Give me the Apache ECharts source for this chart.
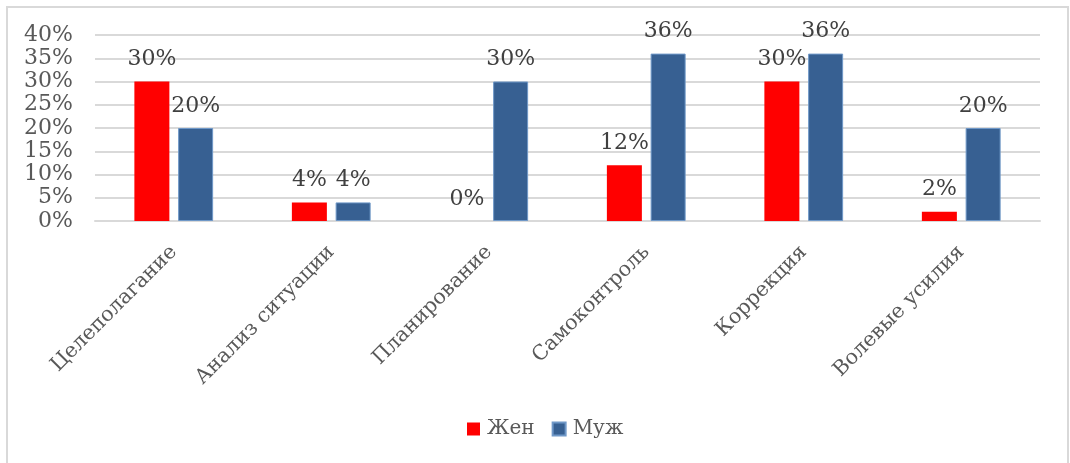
<!DOCTYPE html>
<html>
<head>
<meta charset="utf-8">
<script src="https://cdn.jsdelivr.net/npm/echarts@6/dist/echarts.min.js"></script>
<style>
  html, body { margin: 0; padding: 0; background: #fff; }
  #chart { width: 1070px; height: 463px; }
</style>
</head>
<body>
<div id="chart"></div>
<script>
const categories = ['Целеполагание', 'Анализ ситуации', 'Планирование', 'Самоконтроль', 'Коррекция', 'Волевые усилия'];
const women = [30, 4, 0, 12, 30, 2];
const men = [20, 4, 30, 36, 36, 20];
const seriesNames = ['Жен', 'Муж'];

const font = 'DejaVu Serif';
const textColor = '#595959';

const chart = echarts.init(document.getElementById('chart'));

const label = {
    show: true,
    position: 'top',
    distance: 11,
    formatter: p => p.value + '%',
    fontFamily: font,
    fontSize: 22,
    color: '#404040'
};

chart.setOption({
    animation: false,
    textStyle: { fontFamily: font },
    graphic: [{
        type: 'rect',
        shape: { x: 7, y: 7, width: 1061, height: 470 },
        style: { fill: 'none', stroke: '#d9d9d9', lineWidth: 2 },
        silent: true
    }],
    legend: {
        data: seriesNames,
        bottom: 19,
        left: 462,
        itemWidth: 13,
        itemHeight: 13,
        itemGap: 17,
        icon: 'rect',
        textStyle: { fontFamily: font, fontSize: 20, color: textColor, padding: [0, 0, 0, 2] }
    },
    grid: { left: 95, right: 30, top: 35, bottom: 242 },
    xAxis: {
        type: 'category',
        data: categories,
        axisLine: { lineStyle: { color: '#d9d9d9', width: 2 } },
        axisTick: { show: false },
        axisLabel: {
            rotate: 45,
            interval: 0,
            margin: 28,
            fontFamily: font,
            fontSize: 20.5,
            color: textColor
        }
    },
    yAxis: {
        type: 'value',
        min: 0,
        max: 40,
        interval: 5,
        axisLine: { show: false },
        axisTick: { show: false },
        splitLine: { lineStyle: { color: '#d9d9d9', width: 2 } },
        axisLabel: {
            formatter: '{value}%',
            margin: 22,
            fontFamily: font,
            fontSize: 22,
            color: textColor
        }
    },
    series: [
        {
            name: seriesNames[0],
            type: 'bar',
            data: women,
            barWidth: 35,
            barGap: '25%',
            itemStyle: { color: '#ff0000' },
            label: label
        },
        {
            name: seriesNames[1],
            type: 'bar',
            data: men,
            barWidth: 35,
            itemStyle: { color: '#376092', borderColor: '#6f98c8', borderWidth: 1 },
            label: label
        }
    ]
});
</script>
</body>
</html>
